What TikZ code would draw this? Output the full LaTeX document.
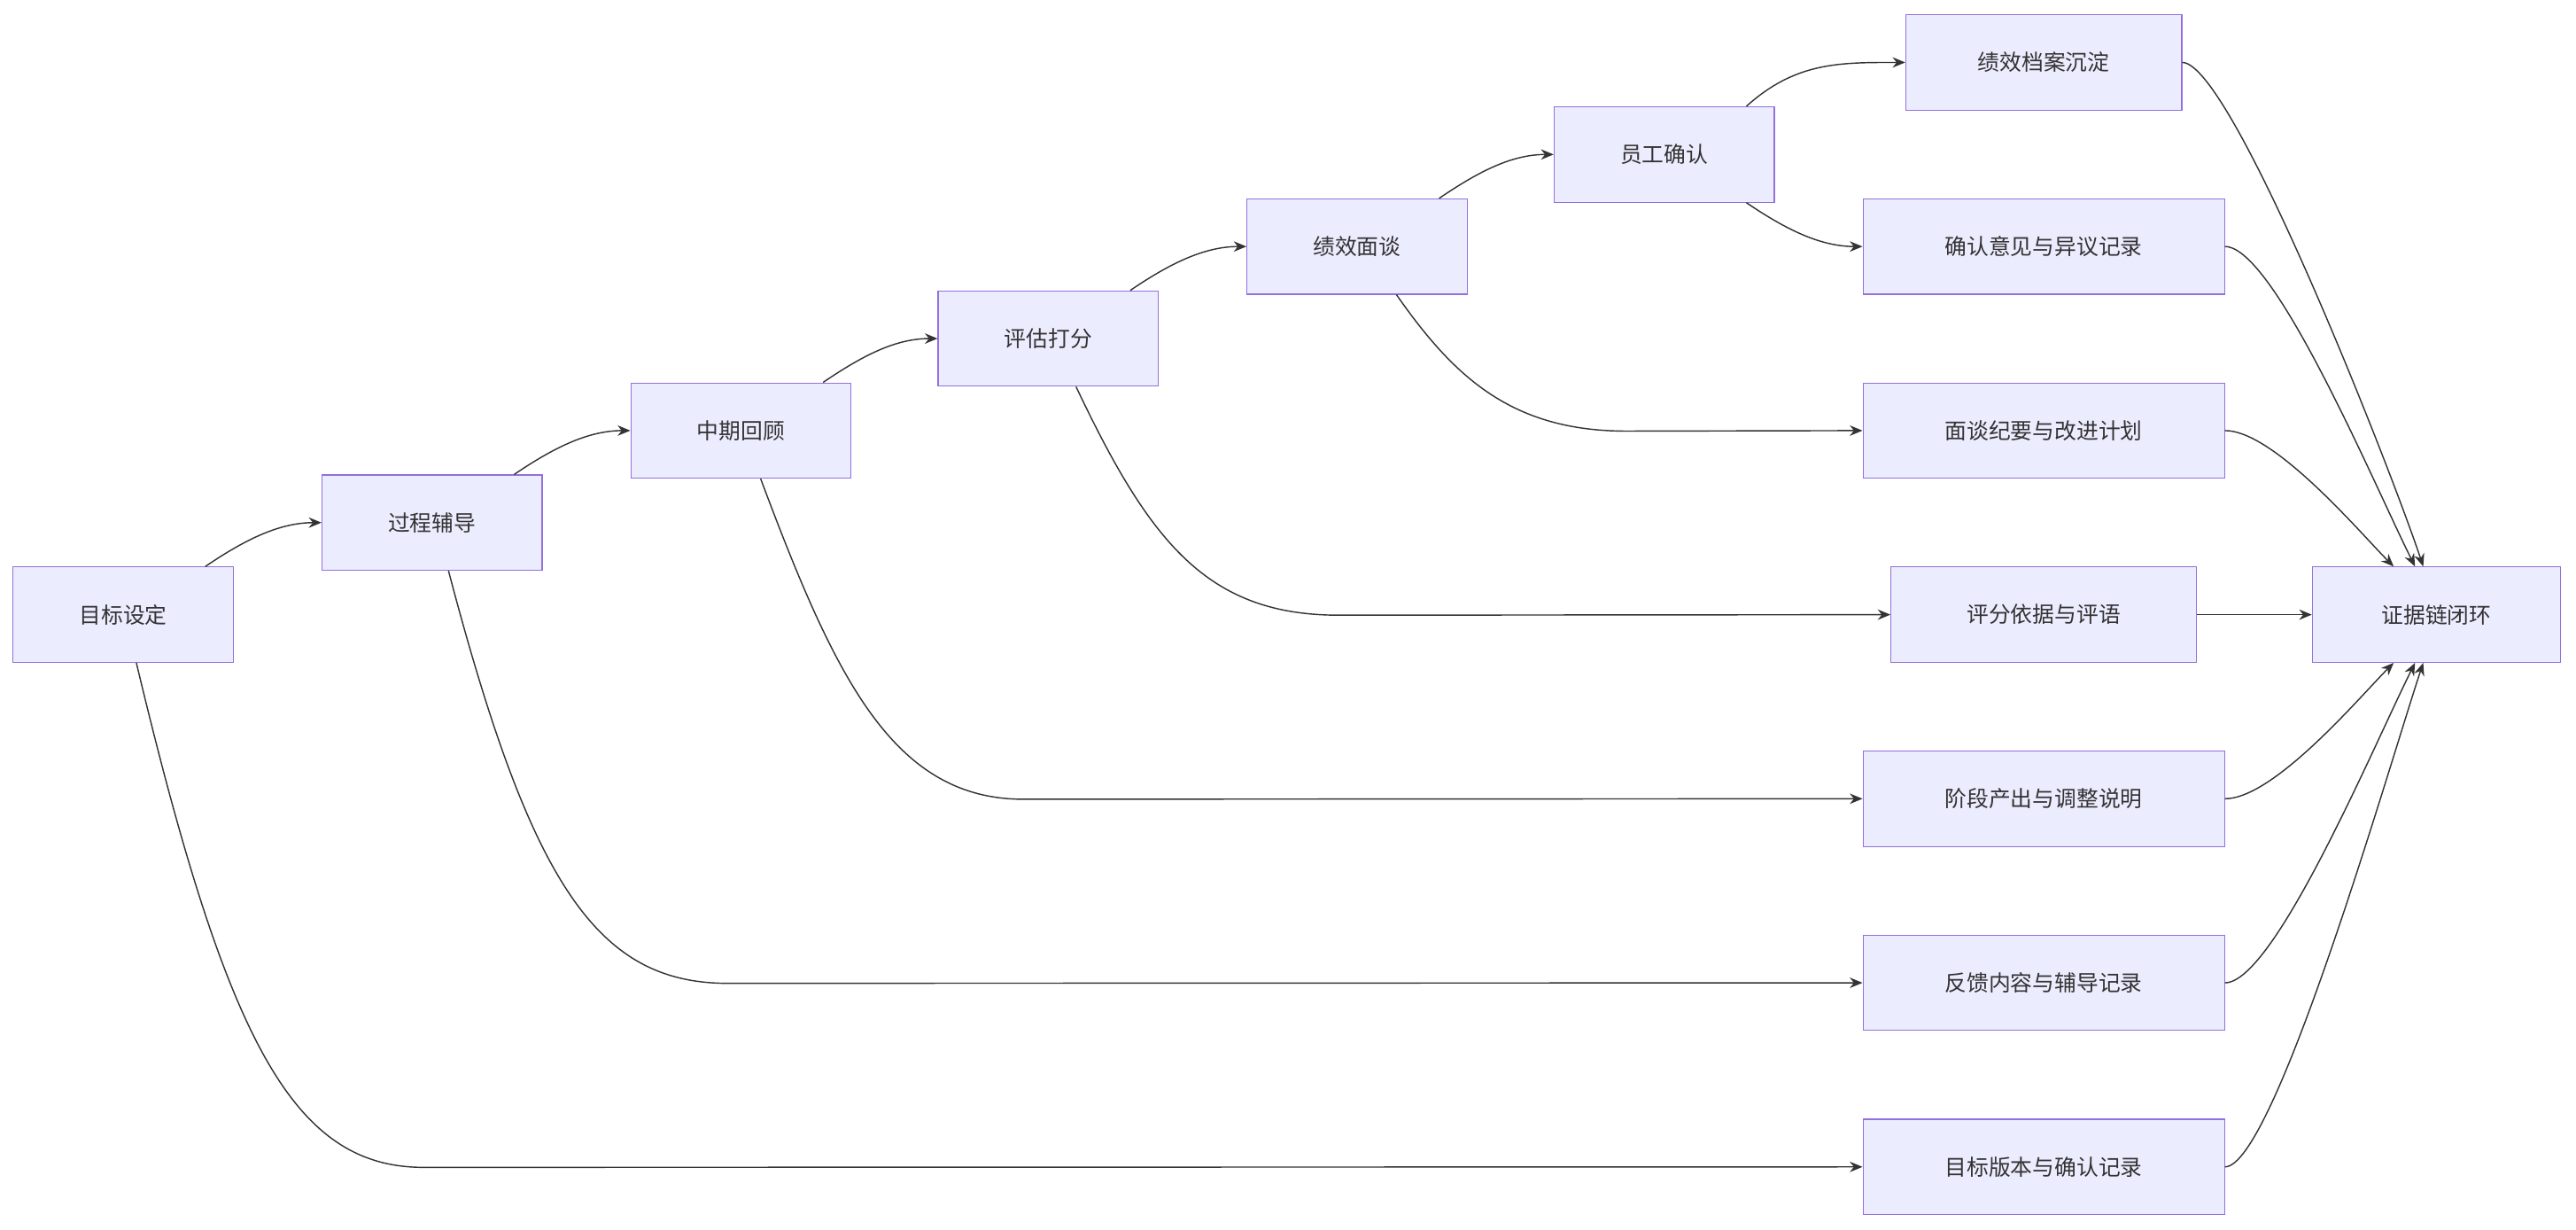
\documentclass[tikz,border=0pt]{standalone}
\usepackage{fontspec}
\setmainfont{Noto Sans CJK SC}
\usetikzlibrary{arrows.meta,calc}
\definecolor{nfill}{HTML}{ECECFF}
\definecolor{nline}{HTML}{9370DB}
\definecolor{ink}{HTML}{333333}
\begin{document}
\begin{tikzpicture}[x=0.05cm,y=-0.05cm,
  box/.style={draw=nline,fill=nfill,line width=0.9pt,minimum height=2.9cm,inner sep=0pt,font=\fontsize{19}{22}\selectfont,text=ink},
  e/.style={draw=ink,line width=1.1pt,-{Stealth[length=11pt,width=9pt]}}]
\useasboundingbox (0,0) rectangle (1568,748);
\node[box,minimum width=6.7cm] (a) at (75,374) {目标设定};
\node[box,minimum width=6.7cm] (b) at (263,318) {过程辅导};
\node[box,minimum width=6.7cm] (c) at (451,262) {中期回顾};
\node[box,minimum width=6.7cm] (d) at (638,206) {评估打分};
\node[box,minimum width=6.7cm] (f) at (826,150) {绩效面谈};
\node[box,minimum width=6.7cm] (g) at (1013,94) {员工确认};
\node[box,minimum width=8.4cm] (h) at (1244,38) {绩效档案沉淀};
\node[box,minimum width=11cm] (i) at (1244,150) {确认意见与异议记录};
\node[box,minimum width=11cm] (j) at (1244,262) {面谈纪要与改进计划};
\node[box,minimum width=9.3cm] (k) at (1244,374) {评分依据与评语};
\node[box,minimum width=11cm] (l) at (1244,486) {阶段产出与调整说明};
\node[box,minimum width=11cm] (m) at (1244,598) {反馈内容与辅导记录};
\node[box,minimum width=11cm] (n) at (1244,710) {目标版本与确认记录};
\node[box,minimum width=7.55cm] (z) at (1483,374) {证据链闭环};
% chain
\foreach \p/\q in {a/b,b/c,c/d,d/f,f/g}{
  \draw[e] ($(\p.north)+(50,0)$) .. controls +(25,-17) and +(-25,0) .. (\q.west);
}
\draw[e] ($(g.north)+(50,0)$) .. controls +(30,-27) and +(-40,0) .. (h.west);
\draw[e] ($(g.south)+(50,0)$) .. controls +(25,17) and +(-25,0) .. (i.west);
% long ones
\draw[e] ($(a.south)+(8,0)$) .. controls +(55,230) and +(-80,0) .. ++(175,307) -- (n.west);
\draw[e] ($(b.south)+(10,0)$) .. controls +(50,190) and +(-80,0) .. ++(170,251) -- (m.west);
\draw[e] ($(c.south)+(12,0)$) .. controls +(45,120) and +(-80,0) .. ++(160,195) -- (l.west);
\draw[e] ($(d.south)+(17,0)$) .. controls +(45,95) and +(-80,0) .. ++(160,139) -- (k.west);
\draw[e] ($(f.south)+(24,0)$) .. controls +(35,50) and +(-70,0) .. ++(140,83) -- (j.west);
% to z
\draw[e] (h.east) .. controls +(30,0) and +(-20,-60) .. ($(z.north)+(-8,0)$);
\draw[e] (i.east) .. controls +(30,0) and +(-25,-50) .. ($(z.north)+(-13,0)$);
\draw[e] (j.east) .. controls +(30,0) and +(-20,-20) .. ($(z.north)+(-26,0)$);
\draw[e] (k.east) -- (z.west);
\draw[e] (l.east) .. controls +(30,0) and +(-20,20) .. ($(z.south)+(-26,0)$);
\draw[e] (m.east) .. controls +(30,0) and +(-25,50) .. ($(z.south)+(-13,0)$);
\draw[e] (n.east) .. controls +(30,0) and +(-20,60) .. ($(z.south)+(-8,0)$);
\end{tikzpicture}
\end{document}
